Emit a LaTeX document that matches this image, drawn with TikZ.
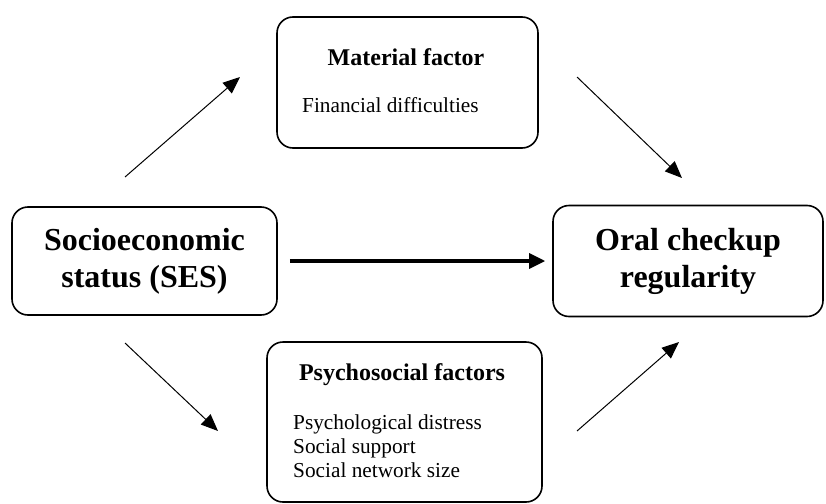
\documentclass[tikz,border=0pt]{standalone}
\usepackage{fontspec}
\setmainfont{Liberation Serif}
\usetikzlibrary{positioning}
\usetikzlibrary{arrows.meta}
\tikzset{
  bigbox/.style={draw, rounded corners=16pt, line width=1.6pt, align=center,
    font=\fontsize{32}{37}\selectfont\bfseries},
  factorbox/.style={draw, rounded corners=16pt, line width=1.6pt},
  boxtitle/.style={font=\fontsize{24}{27}\selectfont\bfseries, inner sep=0pt},
  boxitems/.style={font=\fontsize{21.3}{24}\selectfont, align=left, inner sep=0pt},
  pathway/.style={line width=1pt, -{Triangle[length=17pt,width=14pt]}},
  direct/.style={line width=3.2pt, -{Triangle[length=16pt,width=15pt]}},
}

\begin{document}
\begin{tikzpicture}[x=1pt, y=-1pt]
    \useasboundingbox (0,0) rectangle (826,503);

    % Exposure and outcome
    \node[bigbox, minimum width=265pt, minimum height=108pt] (ses) at (144.5,261) {Socioeconomic\\status (SES)};
    \node[bigbox, minimum width=270pt, minimum height=111pt] (oral) at (688,261) {Oral checkup\\regularity};

    % Material pathway
    \node[factorbox, minimum width=261pt, minimum height=131pt] (material) at (407.5,82.5) {};
    \node[boxtitle, anchor=base] (materialTitle) at (406,65) {Material factor};
    \node[boxitems, anchor=base west] (materialItems) at (302,112) {Financial difficulties};

    % Psychosocial pathway
    \node[factorbox, minimum width=275pt, minimum height=160pt] (psycho) at (404.5,422) {};
    \node[boxtitle, anchor=base] (psychoTitle) at (402,380) {Psychosocial factors};
    \node[boxitems, anchor=north west] (psychoItems) at (293,415) {Psychological distress\\Social support\\Social network size};

    % Arrow ends
    \coordinate (sesUp) at (125,177);
    \coordinate (materialIn) at (240,77);
    \coordinate (materialOut) at (577,77);
    \coordinate (oralUp) at (682,178);
    \coordinate (sesDown) at (125,343);
    \coordinate (psychoIn) at (218,431);
    \coordinate (psychoOut) at (577,431);
    \coordinate (oralDown) at (679,342);

    % Arrows
    \draw[pathway] (sesUp) -- (materialIn);
    \draw[pathway] (materialOut) -- (oralUp);
    \draw[pathway] (sesDown) -- (psychoIn);
    \draw[pathway] (psychoOut) -- (oralDown);
    \draw[direct, shorten <=12pt, shorten >=7pt] (ses) -- (oral);
\end{tikzpicture}
\end{document}
